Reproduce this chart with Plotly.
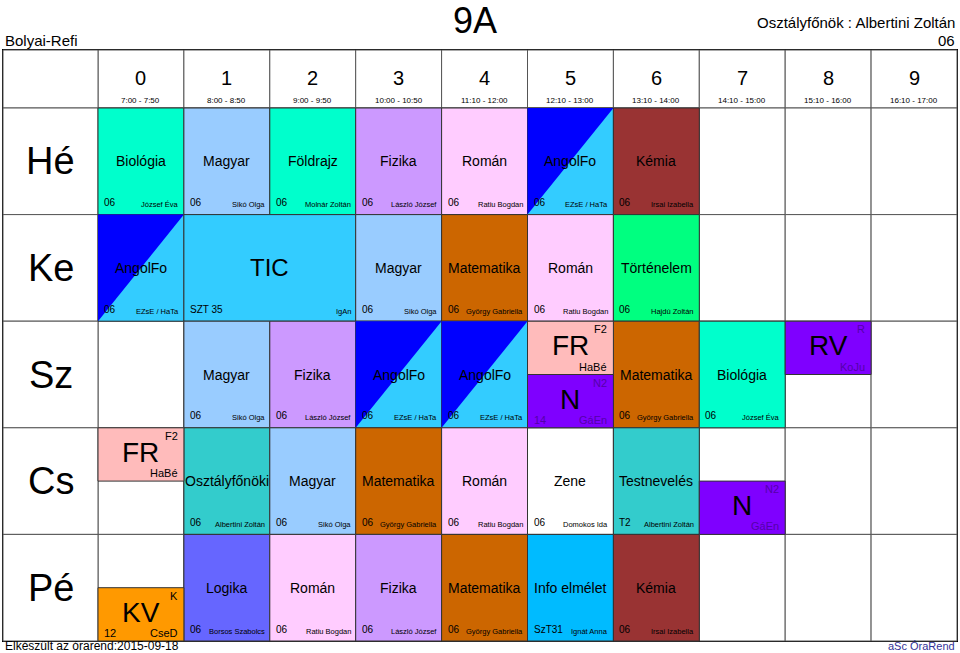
import plotly.graph_objects as go

days = ["Hé", "Ke", "Sz", "Cs", "Pé"]
periods = ["0", "1", "2", "3", "4", "5", "6", "7", "8", "9"]
times = ["7:00 - 7:50", "8:00 - 8:50", "9:00 - 9:50", "10:00 - 10:50", "11:10 - 12:00",
         "12:10 - 13:00", "13:10 - 14:00", "14:10 - 15:00", "15:10 - 16:00", "16:10 - 17:00"]

# (day, period, span, subject, room, teacher, colour)
lessons = [
    (0, 0, 1, "Biológia", "06", "József Éva", "#00ffcc"),
    (0, 1, 1, "Magyar", "06", "Sikó Olga", "#99ccff"),
    (0, 2, 1, "Földrajz", "06", "Molnár Zoltán", "#00ffcc"),
    (0, 3, 1, "Fizika", "06", "László József", "#cc99ff"),
    (0, 4, 1, "Román", "06", "Ratiu Bogdan", "#ffccff"),
    (0, 5, 1, "AngolFo", "06", "EZsE / HaTa", "diag"),
    (0, 6, 1, "Kémia", "06", "Irsai Izabella", "#993333"),
    (1, 0, 1, "AngolFo", "06", "EZsE / HaTa", "diag"),
    (1, 1, 2, "TIC", "SZT 35", "IgAn", "#33ccff"),
    (1, 3, 1, "Magyar", "06", "Sikó Olga", "#99ccff"),
    (1, 4, 1, "Matematika", "06", "György Gabriella", "#cc6600"),
    (1, 5, 1, "Román", "06", "Ratiu Bogdan", "#ffccff"),
    (1, 6, 1, "Történelem", "06", "Hajdú Zoltán", "#00ff80"),
    (2, 1, 1, "Magyar", "06", "Sikó Olga", "#99ccff"),
    (2, 2, 1, "Fizika", "06", "László József", "#cc99ff"),
    (2, 3, 1, "AngolFo", "06", "EZsE / HaTa", "diag"),
    (2, 4, 1, "AngolFo", "06", "EZsE / HaTa", "diag"),
    (2, 6, 1, "Matematika", "06", "György Gabriella", "#cc6600"),
    (2, 7, 1, "Biológia", "06", "József Éva", "#00ffcc"),
    (3, 1, 1, "Osztályfőnöki", "06", "Albertini Zoltán", "#33cccc"),
    (3, 2, 1, "Magyar", "06", "Sikó Olga", "#99ccff"),
    (3, 3, 1, "Matematika", "06", "György Gabriella", "#cc6600"),
    (3, 4, 1, "Román", "06", "Ratiu Bogdan", "#ffccff"),
    (3, 5, 1, "Zene", "06", "Domokos Ida", "#ffffff"),
    (3, 6, 1, "Testnevelés", "T2", "Albertini Zoltán", "#33cccc"),
    (4, 1, 1, "Logika", "06", "Borsos Szabolcs", "#6666ff"),
    (4, 2, 1, "Román", "06", "Ratiu Bogdan", "#ffccff"),
    (4, 3, 1, "Fizika", "06", "László József", "#cc99ff"),
    (4, 4, 1, "Matematika", "06", "György Gabriella", "#cc6600"),
    (4, 5, 1, "Info elmélet", "SzT31", "Ignát Anna", "#00bbff"),
    (4, 6, 1, "Kémia", "06", "Irsai Izabella", "#993333"),
]

# half-height group lessons: (day, period, half, short, group, room, teacher, colour, label colour)
halves = [
    (2, 5, "top", "FR", "F2", "", "HaBé", "#ffbbbb", "#000000"),
    (2, 5, "bottom", "N", "N2", "14", "GáEn", "#7f00ff", "#5500aa"),
    (2, 8, "top", "RV", "R", "", "KoJu", "#7f00ff", "#5500aa"),
    (3, 0, "top", "FR", "F2", "", "HaBé", "#ffbbbb", "#000000"),
    (3, 7, "bottom", "N", "N2", "", "GáEn", "#7f00ff", "#5500aa"),
    (4, 0, "bottom", "KV", "K", "12", "CseD", "#ff9900", "#000000"),
]

FONT = "Liberation Sans"
X0, DAYW, PW = 3, 95, 85.9
Y0, HEADH, RH = 50, 58, 106.6


def cx(p):
    return X0 + DAYW + p * PW


def ry(d):
    return Y0 + HEADH + d * RH


shapes, anns = [], []


def rect(x0, y0, x1, y1, fill, line="#333333", w=1):
    shapes.append(dict(type="rect", x0=x0, y0=y0, x1=x1, y1=y1, fillcolor=fill,
                       line=dict(color=line, width=w), layer="below"))


def text(x, y, s, size, xa="center", ya="middle", color="#000000"):
    anns.append(dict(x=x, y=y, text=s, showarrow=False, xanchor=xa, yanchor=ya,
                     font=dict(family=FONT, size=size, color=color)))


# grid
rect(X0, Y0, cx(10), ry(5), "white", "#000000", 2)
for p in range(10):
    rect(cx(p), Y0, cx(p + 1), ry(0), "white", "#555555")
    text((cx(p) + cx(p + 1)) / 2, Y0 + 28, periods[p], 20)
    text((cx(p) + cx(p + 1)) / 2, Y0 + 50, times[p], 8)
    for d in range(5):
        rect(cx(p), ry(d), cx(p + 1), ry(d + 1), "white", "#555555")
rect(X0, Y0, cx(0), ry(0), "white", "#555555")
for d in range(5):
    rect(X0, ry(d), cx(0), ry(d + 1), "white", "#555555")
    text((X0 + cx(0)) / 2, (ry(d) + ry(d + 1)) / 2, days[d], 38)

for d, p, span, subj, room, teacher, col in lessons:
    x0, x1, y0, y1 = cx(p), cx(p + span), ry(d), ry(d + 1)
    if col == "diag":
        rect(x0, y0, x1, y1, "#33ccff")
        shapes.append(dict(type="path", path=f"M {x0},{y0} L {x1},{y0} L {x0},{y1} Z",
                           fillcolor="#0000ff", line=dict(width=0), layer="below"))
    else:
        rect(x0, y0, x1, y1, col)
    size = 24 if subj == "TIC" else 14
    text((x0 + x1) / 2, (y0 + y1) / 2, subj, size)
    text(x0 + 4, y1 - 12, room, 10, xa="left")
    text(x1 - 3, y1 - 10, teacher, 7.5, xa="right")

for d, p, half, short, grp, room, teacher, col, lc in halves:
    x0, x1 = cx(p), cx(p + 1)
    y0 = ry(d) if half == "top" else ry(d) + RH / 2
    y1 = y0 + RH / 2
    rect(x0, y0, x1, y1, col)
    text((x0 + x1) / 2, (y0 + y1) / 2 - 2, short, 28)
    text(x1 - 4, y0 + 8, grp, 11, xa="right", color=lc)
    text(x1 - 4, y1 - 8, teacher, 11, xa="right", color=lc)
    if room:
        text(x0 + 4, y1 - 8, room, 11, xa="left", color=lc)

text(475, 20, "9A", 36)
text(3, 40, "Bolyai-Refi", 15, xa="left")
text(957, 22, "Osztályfőnök : Albertini Zoltán", 15, xa="right")
text(957, 40, "06", 15, xa="right")
text(3, 646, "Elkészült az órarend:2015-09-18", 12, xa="left")
text(957, 646, "aSc ÓraRend", 11, xa="right", color="#333399")

fig = go.Figure(go.Scatter(x=[0, 960], y=[0, 653], mode="markers",
                           marker=dict(opacity=0), hoverinfo="skip", showlegend=False))
fig.update_layout(width=960, height=653,
                  margin=dict(l=0, r=0, t=0, b=0, autoexpand=False),
                  paper_bgcolor="white", plot_bgcolor="white",
                  shapes=shapes, annotations=anns,
                  xaxis=dict(range=[0, 960], visible=False),
                  yaxis=dict(range=[653, 0], visible=False))
fig.write_html("out.html", config={"displayModeBar": False},
               post_script="document.body.style.margin='0';")
